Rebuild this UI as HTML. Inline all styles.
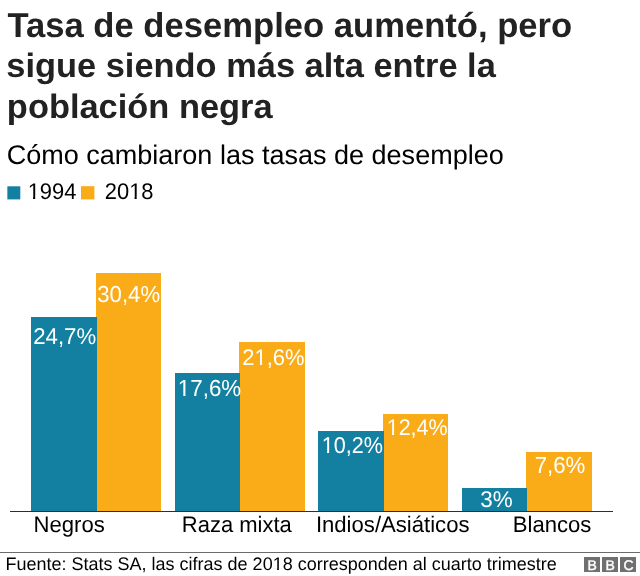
<!DOCTYPE html>
<html><head><meta charset="utf-8">
<style>
html,body{margin:0;padding:0;background:#fff;width:640px;height:576px;overflow:hidden;}
body{position:relative;font-family:"Liberation Sans",sans-serif;}
.t{position:absolute;white-space:nowrap;line-height:1;top:0;transform-origin:0 0;will-change:opacity;text-rendering:geometricPrecision;}
.r{position:absolute;}
.one{display:inline-block;}
</style></head><body>
<div class="r" style="left:96px;top:273px;width:65px;height:238px;background:#FAAB18"></div>
<div class="r" style="left:239px;top:342px;width:66px;height:169px;background:#FAAB18"></div>
<div class="r" style="left:383px;top:414px;width:65px;height:97px;background:#FAAB18"></div>
<div class="r" style="left:526px;top:452px;width:66px;height:59px;background:#FAAB18"></div>
<div class="r" style="left:31px;top:317px;width:66px;height:194px;background:#1380A1"></div>
<div class="r" style="left:175px;top:373px;width:65px;height:138px;background:#1380A1"></div>
<div class="r" style="left:318px;top:431px;width:66px;height:80px;background:#1380A1"></div>
<div class="r" style="left:462px;top:488px;width:65px;height:23px;background:#1380A1"></div>
<svg class="r" style="left:0;top:0" width="640" height="576"><rect x="7.35" y="186.3" width="12.95" height="13.1" fill="#1380A1"/><rect x="81" y="186.2" width="13.4" height="13.2" fill="#FAAB18"/></svg>
<div class="r" style="left:10px;top:511px;width:603px;height:1px;background:#2e2e2e"></div>
<div class="r" style="left:0;top:552px;width:640px;height:1px;background:#6b6b6b"></div>
<div class="t" style="font-size:34.61px;font-weight:700;color:#222222;transform:translate(7.39px,9.00px);">Tasa de desempleo aumentó, pero</div>
<div class="t" style="font-size:34.41px;font-weight:700;color:#222222;transform:translate(6.3px,49.00px) translateY(28.00px) scaleY(0.985) translateY(-28.00px);">sigue siendo más alta entre la</div>
<div class="t" style="font-size:34.41px;font-weight:700;color:#222222;transform:translate(6.86px,90.00px) translateY(28.00px) scaleY(0.985) translateY(-28.00px);">población negra</div>
<div class="t" style="font-size:27.02px;font-weight:400;color:#000000;transform:translate(6.69px,142.00px);">Cómo cambiaron las tasas de desempleo</div>
<div class="t" style="font-size:21.92px;font-weight:400;color:#000000;transform:translate(27.66px,181.00px) translateY(18.00px) scaleY(1.03) translateY(-18.00px);"><span class="one" style="clip-path:polygon(-1em -1em,2em -1em,2em calc(18px - 0.1em),0.345em calc(18px - 0.1em),0.345em 2em,0.246em 2em,0.246em calc(18px - 0.1em),-1em calc(18px - 0.1em))">1</span>994</div>
<div class="t" style="font-size:21.92px;font-weight:400;color:#000000;transform:translate(104.77px,181.00px) translateY(18.00px) scaleY(1.03) translateY(-18.00px);">20<span class="one" style="clip-path:polygon(-1em -1em,2em -1em,2em calc(18px - 0.1em),0.345em calc(18px - 0.1em),0.345em 2em,0.246em 2em,0.246em calc(18px - 0.1em),-1em calc(18px - 0.1em))">1</span>8</div>
<div class="t" style="font-size:22.11px;font-weight:400;color:#000000;transform:translate(33.49px,514.00px) translateY(18.00px) scaleY(1.02) translateY(-18.00px);">Negros</div>
<div class="t" style="font-size:21.99px;font-weight:400;color:#000000;transform:translate(181.84px,514.00px) translateY(18.00px) scaleY(1.02) translateY(-18.00px);">Raza mixta</div>
<div class="t" style="font-size:22.12px;font-weight:400;color:#000000;transform:translate(315.88px,514.00px) translateY(18.00px) scaleY(1.02) translateY(-18.00px);">Indios/Asiáticos</div>
<div class="t" style="font-size:22.09px;font-weight:400;color:#000000;transform:translate(512.8px,514.00px) translateY(18.00px) scaleY(1.02) translateY(-18.00px);">Blancos</div>
<div class="t" style="font-size:18.0px;font-weight:400;color:#000000;transform:translate(5.51px,555.00px) translateY(15.00px) scaleY(1.01) translateY(-15.00px);">Fuente: Stats SA, las cifras de 20<span class="one" style="clip-path:polygon(-1em -1em,2em -1em,2em calc(15px - 0.1em),0.345em calc(15px - 0.1em),0.345em 2em,0.246em 2em,0.246em calc(15px - 0.1em),-1em calc(15px - 0.1em))">1</span>8 corresponden al cuarto trimestre</div>
<div class="t" style="font-size:22.2px;font-weight:400;color:#fff;transform:translate(33.25px,326.00px) translateY(18.00px) scaleY(1.03) translateY(-18.00px);">24,7%</div>
<div class="t" style="font-size:22.16px;font-weight:400;color:#fff;transform:translate(97.29px,284.00px) translateY(18.00px) scaleY(1.044) translateY(-18.00px);">30,4%</div>
<div class="t" style="font-size:22.36px;font-weight:400;color:#fff;transform:translate(177.8px,378.00px) translateY(18.00px) scaleY(1.039) translateY(-18.00px);"><span class="one" style="clip-path:polygon(-1em -1em,2em -1em,2em calc(18px - 0.1em),0.345em calc(18px - 0.1em),0.345em 2em,0.246em 2em,0.246em calc(18px - 0.1em),-1em calc(18px - 0.1em))">1</span>7,6%</div>
<div class="t" style="font-size:21.95px;font-weight:400;color:#fff;transform:translate(242.36px,347.00px) translateY(18.00px) scaleY(1.027) translateY(-18.00px);">2<span class="one" style="clip-path:polygon(-1em -1em,2em -1em,2em calc(18px - 0.1em),0.345em calc(18px - 0.1em),0.345em 2em,0.246em 2em,0.246em calc(18px - 0.1em),-1em calc(18px - 0.1em))">1</span>,6%</div>
<div class="t" style="font-size:21.63px;font-weight:400;color:#fff;transform:translate(321.68px,435.00px) translateY(18.00px) scaleY(1.06) translateY(-18.00px);"><span class="one" style="clip-path:polygon(-1em -1em,2em -1em,2em calc(18px - 0.1em),0.345em calc(18px - 0.1em),0.345em 2em,0.246em 2em,0.246em calc(18px - 0.1em),-1em calc(18px - 0.1em))">1</span>0,2%</div>
<div class="t" style="font-size:21.52px;font-weight:400;color:#fff;transform:translate(386.68px,418.00px) translateY(17.00px) scaleY(1.053) translateY(-17.00px);"><span class="one" style="clip-path:polygon(-1em -1em,2em -1em,2em calc(17px - 0.1em),0.345em calc(17px - 0.1em),0.345em 2em,0.246em 2em,0.246em calc(17px - 0.1em),-1em calc(17px - 0.1em))">1</span>2,4%</div>
<div class="t" style="font-size:22.47px;font-weight:400;color:#fff;transform:translate(480.28px,489.00px) translateY(18.00px) scaleY(1.01) translateY(-18.00px);">3%</div>
<div class="t" style="font-size:22.28px;font-weight:400;color:#fff;transform:translate(534.64px,455.00px) translateY(18.00px) scaleY(1.045) translateY(-18.00px);">7,6%</div>
<div class="r" style="left:584px;top:557px;width:16px;height:15px;background:#707070"></div>
<div class="t" style="font-size:14px;font-weight:400;color:#fff;-webkit-text-stroke:0.4px #fff;transform:translate(587.5px,558px)">B</div>
<div class="r" style="left:602px;top:557px;width:16px;height:15px;background:#707070"></div>
<div class="t" style="font-size:14px;font-weight:400;color:#fff;-webkit-text-stroke:0.4px #fff;transform:translate(605.5px,558px)">B</div>
<div class="r" style="left:620px;top:557px;width:16px;height:15px;background:#707070"></div>
<div class="t" style="font-size:14px;font-weight:400;color:#fff;-webkit-text-stroke:0.4px #fff;transform:translate(623.5px,558px)">C</div>
</body></html>
